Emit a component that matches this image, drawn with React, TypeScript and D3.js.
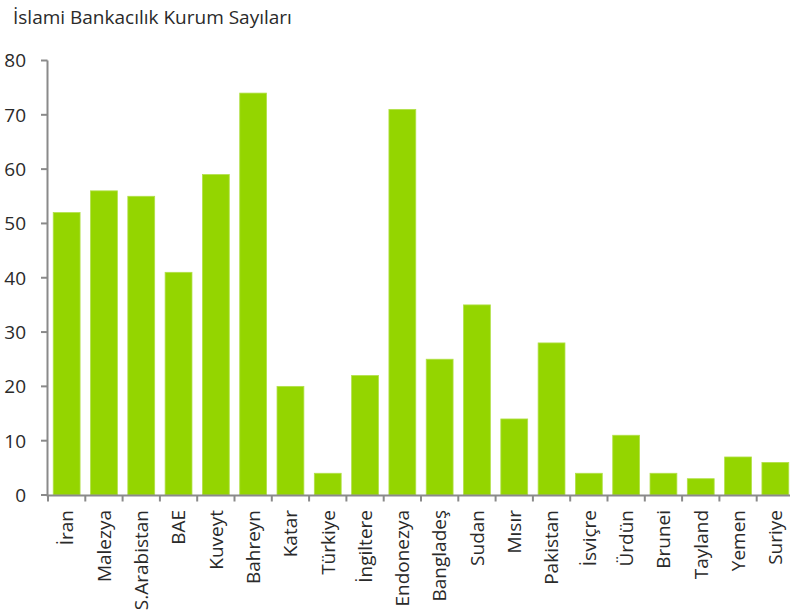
import React from "react";
import * as d3 from "d3";

const categories = ["İran","Malezya","S.Arabistan","BAE","Kuveyt","Bahreyn","Katar","Türkiye","İngiltere","Endonezya","Bangladeş","Sudan","Mısır","Pakistan","İsviçre","Ürdün","Brunei","Tayland","Yemen","Suriye"];
const values = [52,56,55,41,59,74,20,4,22,71,25,35,14,28,4,11,4,3,7,6];
const yTicks = [0,10,20,30,40,50,60,70,80];
const title = "İslami Bankacılık Kurum Sayıları";

const W = 790, H = 614;
const FONT = "'Open Sans', sans-serif";

export default function App() {
  const x = d3.scaleBand<string>().domain(categories).range([48, 794]).paddingInner(0.28).paddingOuter(0.14);
  const y = d3.scaleLinear().domain([0, 80]).range([495, 60.5]);
  const step = x.step();
  const boundaries = categories.map((_, i) => 48 + i * step);
  return (
    <svg width={W} height={H} style={{ position: "absolute", left: 0, top: 0, background: "#fff" }}>
      <text x={13} y={23.5} fontFamily={FONT} fontSize={19} fill="#2a2a2a">{title}</text>
      {categories.map((c, i) => (
        <rect key={c} x={x(c)} y={y(values[i])} width={x.bandwidth()} height={y(0) - y(values[i])}
          fill="#94d500" stroke="#b2e04a" strokeWidth={0.8} />
      ))}
      {/* y axis */}
      <line x1={47.5} x2={47.5} y1={y(80)} y2={y(0)} stroke="#8a8a8a" strokeWidth={2} />
      {yTicks.map(t => (
        <g key={t}>
          <line x1={41} x2={47.5} y1={y(t)} y2={y(t)} stroke="#8a8a8a" strokeWidth={2} />
          <text x={26} y={y(t)} dy="0.36em" textAnchor="end" fontFamily={FONT} fontSize={19} fill="#2a2a2a">{t}</text>
        </g>
      ))}
      {/* x axis */}
      <line x1={46.5} x2={790} y1={495.5} y2={495.5} stroke="#8a8a8a" strokeWidth={2} />
      {boundaries.map((b, i) => (
        <line key={i} x1={b} x2={b} y1={495} y2={501.5} stroke="#8a8a8a" strokeWidth={2} />
      ))}
      {categories.map(c => {
        const cx = (x(c) as number) + x.bandwidth() / 2;
        return (
          <text key={c} transform={`translate(${cx},510) rotate(-90)`} dy="0.36em" textAnchor="end"
            fontFamily={FONT} fontSize={19} fill="#2a2a2a">{c}</text>
        );
      })}
    </svg>
  );
}
